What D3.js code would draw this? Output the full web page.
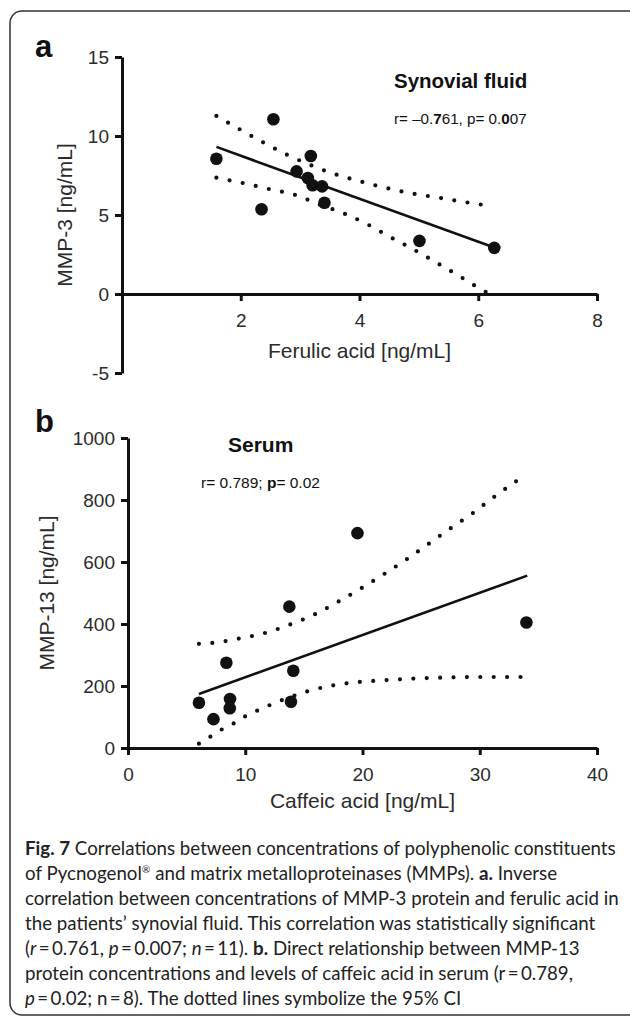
<!DOCTYPE html>
<html>
<head>
<meta charset="utf-8">
<script src="https://cdn.jsdelivr.net/npm/d3@7"></script>
<style>
body { margin: 0; background: #fff; }
svg text { font-family: "Liberation Sans", Arial, sans-serif; }
.axis path, .axis line { stroke: #111; stroke-width: 3; }
.axis text { font-size: 19px; fill: #2b2b2b; font-family: "Liberation Sans", Arial, sans-serif; }
svg .caption text { font-family: Lato, "Open Sans", sans-serif; fill: #222; }
</style>
</head>
<body>
<div id="chart"></div>
<script>
const width = 630
const height = 1019

// panel a : synovial fluid
const ferulicAcid = [1.59, 2.55, 2.35, 2.94, 3.18, 3.13, 3.21, 3.37, 3.41, 5.01, 6.27]
const mmp3 = [8.56, 11.06, 5.36, 7.76, 8.73, 7.34, 6.88, 6.81, 5.78, 3.36, 2.92]
const fitAx = [1.59, 6.27]
const fitAy = [9.31, 2.94]
const upperAx = [1.59, 1.98, 2.36, 2.76, 3.15, 3.55, 3.99, 4.43, 4.87, 5.33, 5.77, 6.21]
const upperAy = [11.27, 10.43, 9.63, 8.85, 8.20, 7.63, 7.15, 6.73, 6.37, 6.10, 5.82, 5.57]
const lowerAx = [1.59, 2.04, 2.48, 2.92, 3.33, 3.73, 4.13, 4.51, 4.91, 5.29, 5.67, 6.05, 6.25]
const lowerAy = [7.36, 7.02, 6.64, 6.27, 5.66, 5.11, 4.42, 3.62, 2.82, 2.00, 1.16, 0.29, -0.10]
const xTicksA = [2, 4, 6, 8]
const yTicksA = [-5, 0, 5, 10, 15]

// panel b : serum
const caffeicAcid = [6.05, 7.29, 8.39, 8.70, 8.68, 13.76, 14.10, 13.90, 19.57, 33.98]
const mmp13 = [146, 93, 275, 158, 128, 456, 249, 149, 693, 405]
const fitBx = [6.05, 34.05]
const fitBy = [174, 556]
const upperBx = [6.05, 7.2, 9.46, 11.69, 13.86, 15.92, 17.88, 19.88, 21.84, 23.73, 25.62, 27.48, 29.38, 31.23, 33.12]
const upperBy = [336, 339, 353, 371, 399, 431, 471, 515, 561, 608, 658, 708, 757, 810, 861]
const lowerBx = [6.05, 7.05, 8.05, 9.04, 10.0, 11.04, 12.07, 13.17, 15.24, 17.47, 19.71, 22.05, 24.35, 26.76, 29.2, 31.58, 34.05]
const lowerBy = [14, 37, 61, 80, 102, 121, 138, 155, 182, 202, 213, 219, 224, 227, 229, 229, 229]
const xTicksB = [0, 10, 20, 30, 40]
const yTicksB = [0, 200, 400, 600, 800, 1000]

// caption, one array per printed line: [text, style]
const captionLines = [
    [["Fig. 7", "b"], [" Correlations between concentrations of polyphenolic constituents", ""]],
    [["of Pycnogenol", ""], ["®", "sup"], [" and matrix metalloproteinases (MMPs). ", ""], ["a.", "b"], [" Inverse", ""]],
    [["correlation between concentrations of MMP-3 protein and ferulic acid in", ""]],
    [["the patients’ synovial fluid. This correlation was statistically significant", ""]],
    [["(", ""], ["r", "i"], ["\u2009=\u20090.761, ", ""], ["p", "i"], ["\u2009=\u20090.007; ", ""], ["n", "i"], ["\u2009=\u200911). ", ""], ["b.", "b"], [" Direct relationship between MMP-13", ""]],
    [["protein concentrations and levels of caffeic acid in serum (r\u2009=\u20090.789,", ""]],
    [["p", "i"], ["\u2009=\u20090.02; n\u2009=\u20098). The dotted lines symbolize the 95% CI", ""]]
]

const svg = d3.select("#chart")
    .append("svg")
    .attr("width", width)
    .attr("height", height)

// frame
svg.append("rect")
    .attr("x", 10).attr("y", 11)
    .attr("width", 640).attr("height", 1004)
    .attr("rx", 12)
    .attr("fill", "none")
    .attr("stroke", "#333")
    .attr("stroke-width", 1.5)

function panel(p) {
    const x = d3.scaleLinear().domain(p.xDomain).range(p.xRange)
    const y = d3.scaleLinear().domain(p.yDomain).range(p.yRange)
    const g = svg.append("g")

    g.append("g").attr("class", "axis")
        .attr("transform", `translate(0, ${y(0)})`)
        .call(d3.axisBottom(x).tickValues(p.xTicks).tickSize(7).tickSizeOuter(0).tickPadding(13))
    g.append("g").attr("class", "axis")
        .attr("transform", `translate(${p.xRange[0]}, 0)`)
        .call(d3.axisLeft(y).tickValues(p.yTicks).tickSize(7).tickSizeOuter(0).tickPadding(p.yPad))
    g.selectAll(".axis text").text(function (d) { return d < 0 ? "-" + Math.abs(d) : d })

    const line = d3.line().x(d => x(d[0])).y(d => y(d[1]))
    const curve = d3.line().x(d => x(d[0])).y(d => y(d[1])).curve(d3.curveMonotoneX)

    ;[[p.upX, p.upY], [p.loX, p.loY]].forEach(b => {
        g.append("path")
            .attr("d", curve(d3.zip(b[0], b[1])))
            .attr("fill", "none")
            .attr("stroke", "#111")
            .attr("stroke-width", 4.2)
            .attr("stroke-linecap", "round")
            .attr("stroke-dasharray", "0 13.4")
    })

    g.append("path")
        .attr("d", line(d3.zip(p.fitX, p.fitY)))
        .attr("fill", "none")
        .attr("stroke", "#111")
        .attr("stroke-width", 2.6)

    g.selectAll("circle")
        .data(d3.zip(p.ptX, p.ptY))
        .join("circle")
        .attr("cx", d => x(d[0]))
        .attr("cy", d => y(d[1]))
        .attr("r", 6.3)
        .attr("fill", "#111")

    // axis titles
    g.append("text")
        .attr("transform", `translate(${p.yTitleX}, ${(p.yRange[0] + p.yRange[1]) / 2}) rotate(-90)`)
        .attr("text-anchor", "middle")
        .attr("font-size", 21)
        .attr("fill", "#2b2b2b")
        .text(p.yTitle)
    g.append("text")
        .attr("x", (p.xRange[0] + p.xRange[1]) / 2)
        .attr("y", p.xTitleY)
        .attr("text-anchor", "middle")
        .attr("font-size", 21)
        .attr("fill", "#2b2b2b")
        .text(p.xTitle)

    // panel letter
    g.append("text")
        .attr("x", 35).attr("y", p.letterY)
        .attr("font-size", 31).attr("font-weight", "bold")
        .attr("fill", "#111")
        .text(p.letter)

    g.append("text")
        .attr("x", p.titleX).attr("y", p.titleY)
        .attr("font-size", p.titleSize).attr("font-weight", "bold")
        .attr("fill", "#111")
        .text(p.title)

    const stat = g.append("text")
        .attr("x", p.statX).attr("y", p.statY)
        .attr("font-size", p.statSize)
        .attr("fill", "#111")
    p.stat.forEach(s => {
        stat.append("tspan").attr("font-weight", s[1] ? "bold" : null).text(s[0])
    })
}

panel({
    xDomain: [0, 8], xRange: [122, 597],
    yDomain: [-5, 15], yRange: [373, 57],
    xTicks: xTicksA, yTicks: yTicksA, yPad: 6,
    ptX: ferulicAcid, ptY: mmp3,
    fitX: fitAx, fitY: fitAy,
    upX: upperAx, upY: upperAy, loX: lowerAx, loY: lowerAy,
    yTitle: "MMP-3 [ng/mL]", yTitleX: 72,
    xTitle: "Ferulic acid [ng/mL]", xTitleY: 358,
    letter: "a", letterY: 57,
    title: "Synovial fluid", titleX: 394, titleY: 88, titleSize: 20.5,
    stat: [["r= \u20130.", 0], ["7", 1], ["61, p= 0.", 0], ["0", 1], ["07", 0]], statX: 394, statY: 124, statSize: 15.2
})

panel({
    xDomain: [0, 40], xRange: [128, 597],
    yDomain: [0, 1000], yRange: [748, 438],
    xTicks: xTicksB, yTicks: yTicksB, yPad: 6,
    ptX: caffeicAcid, ptY: mmp13,
    fitX: fitBx, fitY: fitBy,
    upX: upperBx, upY: upperBy, loX: lowerBx, loY: lowerBy,
    yTitle: "MMP-13 [ng/mL]", yTitleX: 54,
    xTitle: "Caffeic acid [ng/mL]", xTitleY: 808,
    letter: "b", letterY: 432,
    title: "Serum", titleX: 228, titleY: 452, titleSize: 21,
    stat: [["r= 0.789; ", 0], ["p", 1], ["= 0.02", 0]], statX: 201, statY: 488, statSize: 15.5
})

// caption
const cap = svg.append("g").attr("class", "caption")
const capLines = cap.selectAll("text")
    .data(captionLines)
    .join("text")
    .attr("x", 25)
    .attr("y", (d, i) => 855 + i * 25)
    .attr("font-size", 20)
capLines.each(function (segs) {
    const t = d3.select(this)
    segs.forEach(s => {
        const ts = t.append("tspan")
            .attr("font-weight", s[1] === "b" ? "bold" : null)
            .attr("font-style", s[1] === "i" ? "italic" : null)
            .text(s[0])
        if (s[1] === "sup") ts.attr("font-size", "0.55em").attr("baseline-shift", "70%")
    })
})
const w0 = capLines.node().getComputedTextLength()
capLines.attr("font-size", 20 * 591 / w0)
</script>
</body>
</html>
